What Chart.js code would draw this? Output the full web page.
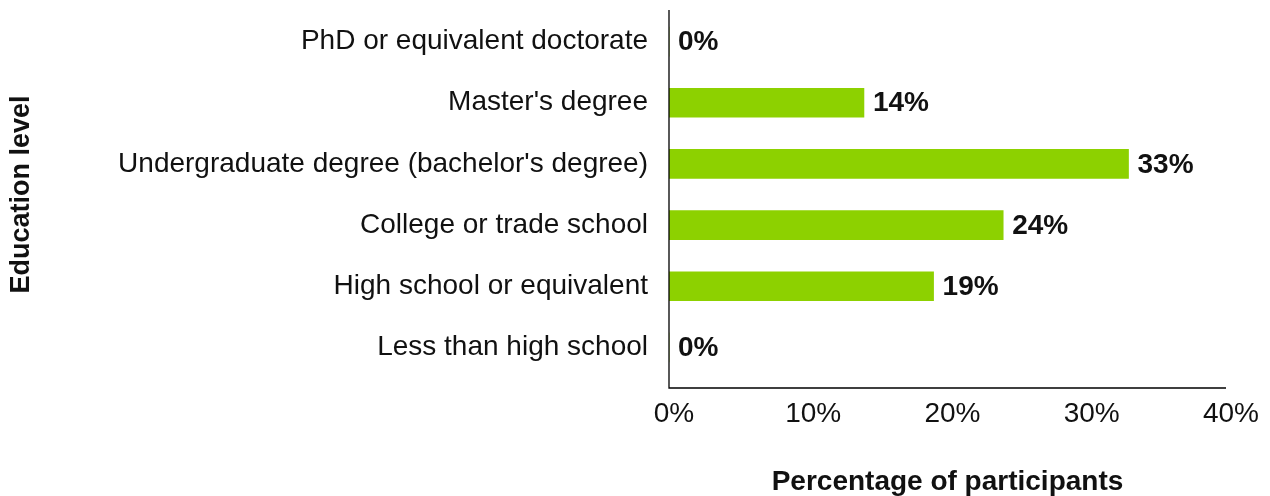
<!DOCTYPE html>
<html>
<head>
<meta charset="utf-8">
<title>Education level of participants</title>
<script src="https://cdn.jsdelivr.net/npm/chart.js@4.4.1/dist/chart.umd.min.js"></script>
<style>
  html, body { margin: 0; padding: 0; background: #ffffff; }
  #wrap { width: 1270px; height: 496px; position: relative; }
</style>
</head>
<body>
<div id="wrap"><canvas id="chart"></canvas></div>
<script>
// Education levels, top to bottom
const educationLevels = [
  'PhD or equivalent doctorate',
  "Master's degree",
  "Undergraduate degree (bachelor's degree)",
  'College or trade school',
  'High school or equivalent',
  'Less than high school'
];
// Share of participants, percent
const participantShare = [0, 14, 33, 24, 19, 0];
// Value axis ticks, percent
const percentTicks = [0, 10, 20, 30, 40];

const FONT = '"Liberation Sans", Arial, Helvetica, sans-serif';
const TEXT = '#111111';
const BAR = '#8dd100';

// Axis lines: the value axis sits a little below the last category band
const axisLines = {
  id: 'axisLines',
  afterDraw(chart) {
    const { ctx, chartArea, scales } = chart;
    const x0 = scales.x.getPixelForValue(percentTicks[0]);
    const x1 = scales.x.getPixelForValue(percentTicks[percentTicks.length - 1]);
    const yBase = chartArea.bottom + 10;
    ctx.save();
    ctx.strokeStyle = '#000000';
    ctx.lineWidth = 1.3;
    ctx.beginPath();
    ctx.moveTo(x0, chartArea.top - 1);
    ctx.lineTo(x0, yBase);
    ctx.lineTo(x1, yBase);
    ctx.stroke();
    ctx.restore();
  }
};

// Value labels at the end of each bar
const valueLabels = {
  id: 'valueLabels',
  afterDatasetsDraw(chart) {
    const { ctx } = chart;
    const meta = chart.getDatasetMeta(0);
    ctx.save();
    ctx.font = 'bold 28px ' + FONT;
    ctx.fillStyle = TEXT;
    ctx.textAlign = 'left';
    ctx.textBaseline = 'middle';
    meta.data.forEach((bar, i) => {
      ctx.fillText(participantShare[i] + '%', bar.x + 9, bar.y + 1);
    });
    ctx.restore();
  }
};

new Chart(document.getElementById('chart'), {
  type: 'bar',
  data: {
    labels: educationLevels,
    datasets: [{
      data: participantShare,
      backgroundColor: BAR,
      borderWidth: 0,
      barThickness: 29
    }]
  },
  options: {
    indexAxis: 'y',
    responsive: true,
    maintainAspectRatio: false,
    animation: false,
    layout: { padding: { left: 0, top: 11, right: 44, bottom: 0 } },
    plugins: {
      legend: { display: false },
      tooltip: { enabled: false }
    },
    scales: {
      x: {
        type: 'linear',
        min: 0,
        max: 40,
        afterBuildTicks(scale) {
          scale.ticks = percentTicks.map(v => ({ value: v }));
        },
        afterFit(scale) {
          scale.height = 118;
          scale.paddingLeft = 0;
          scale.paddingRight = 0;
        },
        grid: { display: false, drawTicks: false },
        border: { display: false },
        ticks: {
          padding: 19,
          labelOffset: 5,
          maxRotation: 0,
          color: TEXT,
          font: { family: FONT, size: 28 },
          callback: v => v + '%'
        },
        title: {
          display: true,
          text: 'Percentage of participants',
          color: TEXT,
          font: { family: FONT, size: 28, weight: 'bold', lineHeight: 1 },
          padding: { top: 0, bottom: 0 }
        }
      },
      y: {
        afterFit(scale) {
          scale.width = 669;
          scale.paddingTop = 0;
          scale.paddingBottom = 0;
        },
        grid: { display: false, drawTicks: false },
        border: { display: false },
        ticks: {
          padding: 21,
          color: TEXT,
          font: { family: FONT, size: 28 }
        },
        title: {
          display: true,
          text: 'Education level',
          color: TEXT,
          font: { family: FONT, size: 27, weight: 'bold', lineHeight: 1 },
          padding: { top: 8, bottom: 0 }
        }
      }
    }
  },
  plugins: [axisLines, valueLabels]
});
</script>
</body>
</html>
